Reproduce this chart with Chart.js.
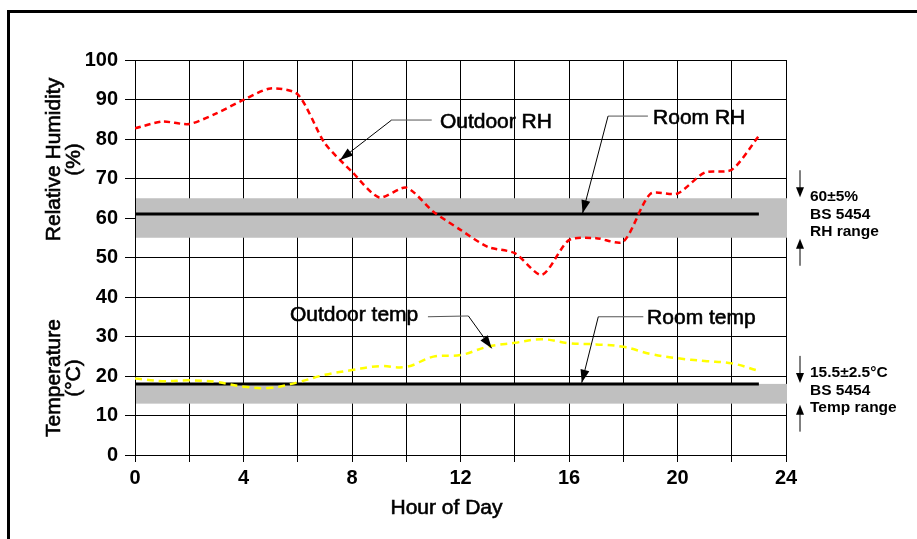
<!DOCTYPE html>
<html><head><meta charset="utf-8">
<script src="https://cdn.jsdelivr.net/npm/chart.js@4/dist/chart.umd.min.js"></script>
<style>html,body{margin:0;padding:0;background:#fff;}#wrap{width:917px;height:539px;position:relative;overflow:hidden}</style>
</head><body><div id="wrap"><canvas id="c" width="917" height="539"></canvas></div>
<script>
const hours = [0,1,2,3,4,5,6,7,8,9,10,11,12,13,14,15,16,17,18,19,20,21,22,23];
const outdoorRH = [82.7,84.4,83.8,86.5,89.9,92.8,91.3,78.9,71.7,65.2,67.7,61.6,57.0,52.7,51.1,45.6,54.4,54.9,54.0,66.1,66.2,71.5,72.2,80.8];
const outdoorTemp = [19.4,18.7,18.9,18.5,17.3,17.0,18.4,20.3,21.5,22.5,22.3,24.9,25.3,27.4,28.4,29.3,28.3,28.0,27.4,25.6,24.5,23.8,23.2,21.3];
const roomHours = [0,23];
const roomRH = [61,61];
const roomTemp = [18,18];
const rhBand = [55,65];
const tempBand = [13,18];
const xRange = [0,24];
const yRange = [0,100];
const xLabelStep = 4;
const rhTitle = ['Relative Humidity','(%)'];
const tempTitle = ['Temperature','(°C)'];
const xTitle = 'Hour of Day';
const rhNote = ['60±5%','BS 5454','RH range'];
const tempNote = ['15.5±2.5°C','BS 5454','Temp range'];

const FF = "'Liberation Sans', Arial, Helvetica, sans-serif";
const pts = (xs, ys) => xs.map((x,i)=>({x:x,y:ys[i]}));

// annotation callouts in data coordinates: text anchor, leader start, elbow, tip
const callouts = [
  {text:'Outdoor RH', tx:11.24, ty:84.3, path:[[10.94,84.8],[9.46,84.8],[7.56,74.7]]},
  {text:'Room RH', tx:19.1, ty:85.3, path:[[18.91,85.8],[17.44,85.8],[16.5,61.2]]},
  {text:'Outdoor temp', tx:5.71, ty:35.4, path:[[10.8,35.0],[12.29,35.2],[13.15,27.0]]},
  {text:'Room temp', tx:18.88, ty:34.7, path:[[18.74,35.0],[17.08,35.0],[16.47,18.3]]}
];

function arrowHead(ctx, x1, y1, x2, y2, len, wid){
  const a = Math.atan2(y2-y1, x2-x1);
  ctx.beginPath();
  ctx.moveTo(x2, y2);
  ctx.lineTo(x2 - len*Math.cos(a) + wid*Math.sin(a), y2 - len*Math.sin(a) - wid*Math.cos(a));
  ctx.lineTo(x2 - len*Math.cos(a) - wid*Math.sin(a), y2 - len*Math.sin(a) + wid*Math.cos(a));
  ctx.closePath();
  ctx.fill();
}

function heavyText(ctx, s, x, y){
  ctx.fillText(s, x, y);
  ctx.save();
  ctx.lineWidth = 0.6;
  ctx.strokeStyle = '#000';
  ctx.strokeText(s, x, y);
  ctx.restore();
}

const deco = {
  id:'deco',
  beforeDraw(chart){
    const ctx = chart.ctx;
    ctx.save();
    ctx.fillStyle = '#fff';
    ctx.fillRect(0,0,chart.width,chart.height);
    ctx.strokeStyle = '#000';
    ctx.lineWidth = 3;
    ctx.beginPath();
    ctx.moveTo(8.5, chart.height+5);
    ctx.lineTo(8.5, 11.5);
    ctx.lineTo(chart.width+5, 11.5);
    ctx.stroke();
    ctx.restore();
  },
  beforeDatasetsDraw(chart){
    const ctx = chart.ctx, a = chart.chartArea, y = chart.scales.y;
    ctx.save();
    ctx.fillStyle = '#c0c0c0';
    [rhBand, tempBand].forEach(b=>{
      const t = y.getPixelForValue(b[1]), btm = y.getPixelForValue(b[0]);
      ctx.fillRect(a.left+1, t, a.right-a.left, btm-t);
    });
    ctx.restore();
  },
  afterDatasetsDraw(chart){
    const ctx = chart.ctx, a = chart.chartArea, xs = chart.scales.x, ys = chart.scales.y;
    ctx.save();
    ctx.fillStyle = '#000';
    ctx.strokeStyle = '#000';
    // callouts
    ctx.font = '21px ' + FF;
    ctx.textBaseline = 'middle';
    ctx.textAlign = 'left';
    callouts.forEach(c=>{
      heavyText(ctx, c.text, xs.getPixelForValue(c.tx), ys.getPixelForValue(c.ty));
      const p = c.path.map(q=>[xs.getPixelForValue(q[0]), ys.getPixelForValue(q[1])]);
      ctx.strokeStyle = '#555';
      ctx.lineWidth = 1;
      ctx.beginPath();
      ctx.moveTo(p[0][0], p[0][1]);
      ctx.lineTo(p[1][0], p[1][1]);
      ctx.stroke();
      ctx.strokeStyle = '#000';
      ctx.beginPath();
      ctx.moveTo(p[1][0], p[1][1]);
      ctx.lineTo(p[2][0], p[2][1]);
      ctx.stroke();
      arrowHead(ctx, p[1][0], p[1][1], p[2][0], p[2][1], 13, 4.5);
    });
    // right-side band notes
    const ax = a.right + 14;
    [[rhBand, rhNote],[tempBand, tempNote]].forEach(([b, note])=>{
      const t = ys.getPixelForValue(b[1]), btm = ys.getPixelForValue(b[0]);
      ctx.lineWidth = 1;
      ctx.beginPath(); ctx.moveTo(ax, t-28); ctx.lineTo(ax, t-4); ctx.stroke();
      arrowHead(ctx, ax, t-28, ax, t-1, 10, 4);
      ctx.beginPath(); ctx.moveTo(ax, btm+28); ctx.lineTo(ax, btm+4); ctx.stroke();
      arrowHead(ctx, ax, btm+28, ax, btm+1, 10, 4);
      const cy = (t+btm)/2;
      ctx.font = 'bold 15.5px ' + FF;
      ctx.textAlign = 'left';
      note.forEach((s,i)=>ctx.fillText(s, ax+10, cy-21+i*17.5));
    });
    // axis titles
    ctx.font = '21px ' + FF;
    ctx.textAlign = 'center';
    heavyText(ctx, xTitle, (a.left+a.right)/2 - 14, a.bottom + 53);
    const drawV = (lines, cy)=>{
      lines.forEach((s,i)=>{
        ctx.save();
        ctx.translate(54 + i*20, cy);
        ctx.rotate(-Math.PI/2);
        heavyText(ctx, s, 0, 0);
        ctx.restore();
      });
    };
    const yMid = v=>ys.getPixelForValue(v);
    drawV(rhTitle, (yMid(100)+yMid(40))/2 - 19);
    drawV(tempTitle, (yMid(0)+yMid(40))/2 + 2);
    ctx.restore();
  }
};

new Chart(document.getElementById('c'), {
  type:'line',
  data:{
    datasets:[
      {label:'Outdoor RH', data:pts(hours, outdoorRH), borderColor:'#ff0000', borderWidth:2.5, borderDash:[6,4], pointRadius:0, tension:0.25, fill:false},
      {label:'Outdoor temp', data:pts(hours, outdoorTemp), borderColor:'#ffff00', borderWidth:2.5, borderDash:[7,5], pointRadius:0, tension:0.4, fill:false},
      {label:'Room RH', data:pts(roomHours, roomRH), borderColor:'#000', borderWidth:3, pointRadius:0, tension:0, fill:false},
      {label:'Room temp', data:pts(roomHours, roomTemp), borderColor:'#000', borderWidth:3, pointRadius:0, tension:0, fill:false}
    ]
  },
  options:{
    responsive:false,
    animation:false,
    devicePixelRatio:1,
    layout:{padding:{top:60, right:131, left:0, bottom:0}},
    plugins:{legend:{display:false}, tooltip:{enabled:false}, title:{display:false}},
    scales:{
      x:{
        type:'linear', min:xRange[0], max:xRange[1],
        afterFit(s){ s.height = 84; },
        ticks:{stepSize:2, autoSkip:false, maxRotation:0, color:'#000', padding:4,
          font:{family:FF, size:20, weight:'bold'},
          callback:v=> (v % xLabelStep === 0 ? String(v) : '')},
        grid:{color:'#000', lineWidth:1, tickLength:7, tickColor:'#000'},
        border:{color:'#000', width:1}
      },
      y:{
        min:yRange[0], max:yRange[1],
        afterFit(s){ s.width = 135; },
        ticks:{stepSize:10, color:'#000', padding:7, font:{family:FF, size:20, weight:'bold'}},
        grid:{color:'#000', lineWidth:1, tickLength:10, tickColor:'#000'},
        border:{color:'#000', width:1}
      }
    }
  },
  plugins:[deco]
});
</script>
</body></html>
